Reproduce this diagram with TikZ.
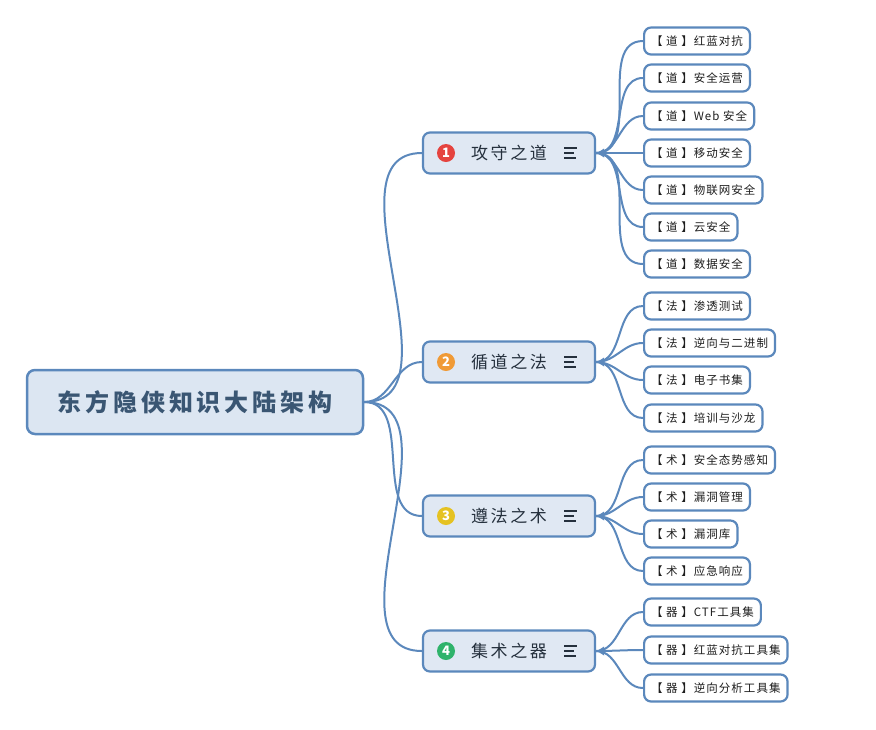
\documentclass[tikz,border=0pt]{standalone}
\usepackage{fontspec}
\setmainfont{Noto Sans CJK SC}
\usepackage{xcolor}
\usepackage{tikz}

\definecolor{edgeblue}{HTML}{5B88BC}
\definecolor{rootfill}{HTML}{DCE6F2}
\definecolor{branchfill}{HTML}{E0E8F3}
\definecolor{rootink}{HTML}{3A5673}
\definecolor{branchink}{HTML}{25303D}
\definecolor{leafink}{HTML}{1E1E1E}
\definecolor{numred}{HTML}{E5433F}
\definecolor{numorange}{HTML}{F09A36}
\definecolor{numyellow}{HTML}{E5C222}
\definecolor{numgreen}{HTML}{2FB36B}

\begin{document}
\begin{tikzpicture}[x=1pt, y=-1pt,
    rootbox/.style={draw=edgeblue, line width=2.5pt, fill=rootfill, rounded corners=8pt,
      minimum width=336pt, minimum height=64pt, text=rootink,
      font={\fontsize{24}{28}\selectfont\bfseries\addfontfeature{LetterSpace=16}}},
    branchbox/.style={draw=edgeblue, line width=2.2pt, fill=branchfill, rounded corners=7pt,
      minimum width=172pt, minimum height=41pt, text=branchink,
      font={\fontsize{17}{20}\selectfont\addfontfeature{LetterSpace=15}}},
    leafbox/.style={draw=edgeblue, line width=2.2pt, fill=white, rounded corners=7pt,
      minimum height=27pt, inner xsep=7pt, anchor=west, text=leafink,
      font={\fontsize{11.5}{13}\selectfont\addfontfeature{LetterSpace=9}}},
    numdot/.style={circle, inner sep=0pt, minimum size=18pt, text=white,
      font={\fontsize{13}{13}\selectfont\bfseries}},
    link/.style={draw=edgeblue, line width=2pt, out=0, in=180}]
      \useasboundingbox (0,0) rectangle (876,729);

      % Root
      \node[rootbox] (root) at (195,402) {东方隐侠知识大陆架构};

      % Branches
      \node[branchbox] (b1) at (509,153) {攻守之道};
      \node[branchbox] (b2) at (509,362) {循道之法};
      \node[branchbox] (b3) at (509,516) {遵法之术};
      \node[branchbox] (b4) at (509,651) {集术之器};

      % Number badges
      \node[numdot, fill=numred] (n1) at (446,153) {1};
      \node[numdot, fill=numorange] (n2) at (446,362) {2};
      \node[numdot, fill=numyellow] (n3) at (446,516) {3};
      \node[numdot, fill=numgreen] (n4) at (446,651) {4};

      % Menu icons
      \foreach \b in {b1,b2,b3,b4} {
        \draw[branchink, line width=1.1pt] ([xshift=55pt, yshift=5pt]\b.center) -- ++(13,0);
        \draw[branchink, line width=1.1pt] ([xshift=55pt]\b.center) -- ++(10,0);
        \draw[branchink, line width=1.1pt] ([xshift=55pt, yshift=-5pt]\b.center) -- ++(12,0);
      }

      % Leaves
      \foreach \n/\y/\t in {d1/41/红蓝对抗, d2/78/安全运营, d3/116/Web 安全, d4/153/移动安全,
          d5/190/物联网安全, d6/227/云安全, d7/264/数据安全}
        \node[leafbox] (\n) at (643,\y) {【 道 】\t};
      \foreach \n/\y/\t in {f1/306/渗透测试, f2/343/逆向与二进制, f3/380/电子书集, f4/418/培训与沙龙}
        \node[leafbox] (\n) at (643,\y) {【 法 】\t};
      \foreach \n/\y/\t in {s1/460/安全态势感知, s2/497/漏洞管理, s3/534/漏洞库, s4/571/应急响应}
        \node[leafbox] (\n) at (643,\y) {【 术 】\t};
      \foreach \n/\y/\t in {q1/612/CTF工具集, q2/650/红蓝对抗工具集, q3/688/逆向分析工具集}
        \node[leafbox] (\n) at (643,\y) {【 器 】\t};

      % Links
      \foreach \b in {b1,b2,b3,b4}
        \path[link] (root.east) to (\b.west);
      \foreach \n in {d1,d2,d3,d4,d5,d6,d7}
        \path[link] (b1.east) to (\n.west);
      \foreach \n in {f1,f2,f3,f4}
        \path[link] (b2.east) to (\n.west);
      \foreach \n in {s1,s2,s3,s4}
        \path[link] (b3.east) to (\n.west);
      \foreach \n in {q1,q2,q3}
        \path[link] (b4.east) to (\n.west);
      \foreach \b in {b1,b2,b3,b4}
        \fill[edgeblue] ([xshift=1pt]\b.east) -- ++(7,-4.5) -- ++(0,9) -- cycle;
    \end{tikzpicture}
\end{document}
